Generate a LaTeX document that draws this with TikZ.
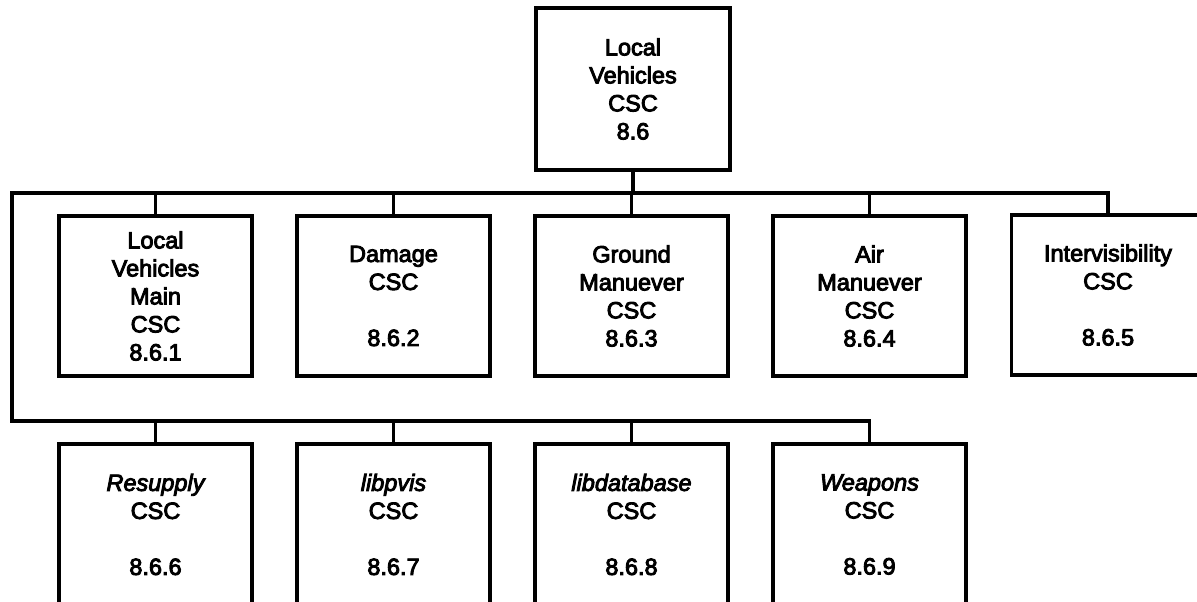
\documentclass[tikz,border=0pt]{standalone}
\usepackage{fontspec}
\setmainfont{Liberation Sans}
\newcommand{\heavytext}{\special{pdf:literal direct 2 Tr 0.9 w}}
\begin{document}
\begin{tikzpicture}[x=1pt,y=1pt,
  box/.style={draw, line width=3.2pt, minimum width=193pt, minimum height=160pt,
    inner sep=0pt, align=center, font=\fontsize{23.5}{28}\selectfont\heavytext},
  wire/.style={line width=3.2pt}]
\useasboundingbox (0,0) rectangle (1197,-602);
\clip (0,0) rectangle (1197,-602);
\fill[white] (0,0) rectangle (1197,-602);
% top
\node[box, minimum width=194pt, minimum height=162pt] (top) at (633,-89) {Local\\Vehicles\\CSC\\8.6};
% row 1
\node[box] (n1) at (155.5,-296) {Local\\Vehicles\\Main\\CSC\\8.6.1};
\node[box] (n2) at (393.5,-296) {Damage\\CSC\\[28pt]8.6.2};
\node[box] (n3) at (631.5,-296) {Ground\\Manuever\\CSC\\8.6.3};
\node[box] (n4) at (869.5,-296) {Air\\Manuever\\CSC\\8.6.4};
\node[box] (n5) at (1108,-295) {Intervisibility\\CSC\\[28pt]8.6.5};
% row 2
\node[box, minimum height=161pt] (n6) at (155.5,-524.5) {\itshape Resupply\\CSC\\[28pt]8.6.6};
\node[box, minimum height=161pt] (n7) at (393.5,-524.5) {\itshape libpvis\\CSC\\[28pt]8.6.7};
\node[box, minimum height=161pt] (n8) at (631.5,-524.5) {\itshape libdatabase\\CSC\\[28pt]8.6.8};
\node[box, minimum height=161pt] (n9) at (869.5,-524.5) {\itshape Weapons\\CSC\\[28pt]8.6.9};
% buses
\coordinate (b1) at (12,-193);
\coordinate (b2) at (12,-421);
\draw[wire] (top.south) -- (top.south |- b1);
\draw[wire, line join=miter] (n5.north) -- (n5.north |- b1) -- (b1) -- (b2) -- (b2 -| n9.north) -- (n9.north);
\foreach \n in {n1,n2,n3,n4} {\draw[wire] (\n.north) -- (\n.north |- b1);}
\foreach \n in {n6,n7,n8} {\draw[wire] (\n.north) -- (\n.north |- b2);}
\end{tikzpicture}
\end{document}
